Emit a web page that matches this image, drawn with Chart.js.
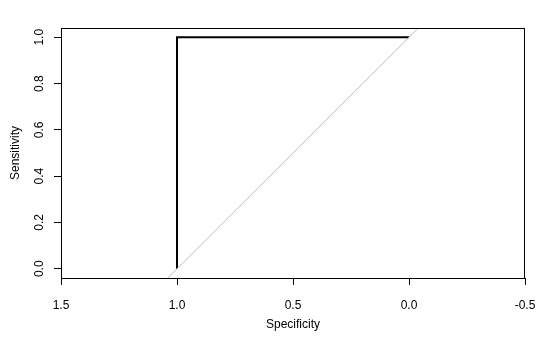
<!DOCTYPE html>
<html>
<head>
<meta charset="utf-8">
<script src="https://cdn.jsdelivr.net/npm/chart.js@4/dist/chart.umd.min.js"></script>
<style>
  html, body { margin: 0; padding: 0; background: #fff; }
  canvas { display: block; }
</style>
</head>
<body>
<canvas id="roc" width="552" height="342"></canvas>
<script>
// roc curve points (specificity, sensitivity)
var specificity = [1, 1, 0];
var sensitivity = [0, 1, 1];
// chance diagonal, drawn across the whole plot region
var diagSpec = [1.04, -0.04];
var diagSens = [-0.04, 1.04];

var xTicks = [1.5, 1.0, 0.5, 0.0, -0.5];
var yTicks = [0.0, 0.2, 0.4, 0.6, 0.8, 1.0];

function pts(xs, ys) {
  return xs.map(function (x, i) { return { x: x, y: ys[i] }; });
}

// box round the plot area, like R's box()
var boxPlugin = {
  id: 'box',
  afterDraw: function (chart) {
    var a = chart.chartArea, ctx = chart.ctx;
    ctx.save();
    ctx.strokeStyle = '#000';
    ctx.lineWidth = 1;
    ctx.strokeRect(a.left + 0.5, a.top + 0.5, a.right - a.left - 1, a.bottom - a.top);
    ctx.restore();
  }
};

Chart.defaults.font.family = 'Arial, "Liberation Sans", sans-serif';
Chart.defaults.font.size = 12;
Chart.defaults.color = '#000';

new Chart(document.getElementById('roc'), {
  type: 'scatter',
  data: {
    datasets: [{
      data: pts(diagSpec, diagSens),
      showLine: true,
      borderColor: '#bebebe',
      borderWidth: 1,
      pointRadius: 0
    }, {
      data: pts(specificity, sensitivity),
      showLine: true,
      borderColor: '#000',
      borderWidth: 2,
      pointRadius: 0
    }]
  },
  options: {
    responsive: false,
    animation: false,
    devicePixelRatio: 1,
    layout: { padding: { left: 0, right: 27, top: 28, bottom: 0 } },
    plugins: { legend: { display: false }, tooltip: { enabled: false } },
    scales: {
      x: {
        type: 'linear',
        reverse: true,
        min: -0.5,
        max: 1.5,
        afterBuildTicks: function (s) { s.ticks = xTicks.map(function (v) { return { value: v }; }); },
        afterFit: function (s) { s.height = 64; },
        grid: { drawOnChartArea: false, drawTicks: true, tickLength: 7, tickColor: '#000', tickWidth: 1 },
        border: { display: true, color: '#000', width: 1 },
        ticks: {
          padding: 13,
          maxRotation: 0,
          autoSkip: false,
          callback: function (v) { return v.toFixed(1); }
        },
        title: { display: true, text: 'Specificity', padding: { top: 0, bottom: 10 } }
      },
      y: {
        type: 'linear',
        min: -0.04,
        max: 1.04,
        afterBuildTicks: function (s) { s.ticks = yTicks.map(function (v) { return { value: v }; }); },
        afterFit: function (s) { s.width = 61; },
        grid: { drawOnChartArea: false, drawTicks: true, tickLength: 7, tickColor: '#000', tickWidth: 1 },
        border: { display: true, color: '#000', width: 1 },
        ticks: {
          padding: 6,
          minRotation: 90,
          maxRotation: 90,
          autoSkip: false,
          crossAlign: 'center',
          callback: function (v) { return v.toFixed(1); }
        },
        title: { display: true, text: 'Sensitivity', padding: { top: 8, bottom: 0 } }
      }
    }
  },
  plugins: [boxPlugin]
});
</script>
</body>
</html>
